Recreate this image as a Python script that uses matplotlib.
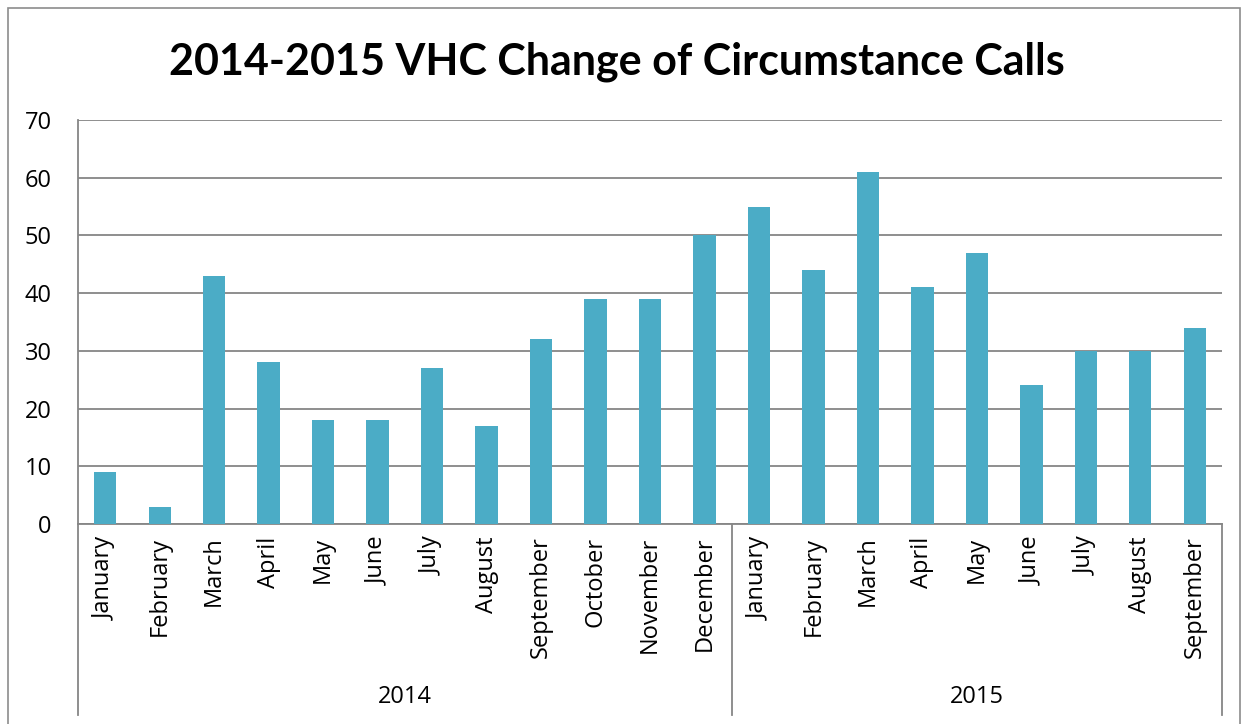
import matplotlib
matplotlib.use("Agg")
import matplotlib.pyplot as plt
from matplotlib.patches import Rectangle
from matplotlib.lines import Line2D

months = ["January", "February", "March", "April", "May", "June", "July", "August",
          "September", "October", "November", "December",
          "January", "February", "March", "April", "May", "June", "July", "August", "September"]
values = [9, 3, 43, 28, 18, 18, 27, 17, 32, 39, 39, 50,
          55, 44, 61, 41, 47, 24, 30, 30, 34]
years = ["2014", "2015"]
year_counts = [12, 9]
yticks = [0, 10, 20, 30, 40, 50, 60, 70]
title = "2014-2015 VHC Change of Circumstance Calls"

W, H = 1247, 724
fig = plt.figure(figsize=(W / 100, H / 100), dpi=100)
fig.patch.set_facecolor("white")

font = "Open Sans"
bar_color = "#4BACC6"
grid_color = "#868686"

# outer chart border
fig.add_artist(Rectangle((8 / W, -0.05), (1240 - 8) / W, (H - 8) / H + 0.05,
                         transform=fig.transFigure, fill=False,
                         edgecolor="#8c8c8c", lw=1.2))

ax = fig.add_axes([78 / W, (H - 524) / H, (1222 - 78) / W, (524 - 120) / H])
x = list(range(len(values)))
ax.bar(x, values, width=0.41, color=bar_color, zorder=3)
ax.set_xlim(-0.5, len(values) - 0.5)
ax.set_ylim(0, 70)
ax.set_yticks(yticks)
ax.set_yticklabels([str(t) for t in yticks], fontsize=17, fontfamily=font)
ax.tick_params(axis="y", length=0, pad=19)
ax.set_xticks(x)
ax.set_xticklabels(months, rotation=90, fontsize=17, fontfamily=font, va="top")
ax.tick_params(axis="x", length=0, pad=9)
ax.yaxis.grid(True, color=grid_color, lw=1.3, zorder=0)
for s in ["top", "right"]:
    ax.spines[s].set_visible(False)
ax.spines["left"].set_color(grid_color)
ax.spines["left"].set_linewidth(1.3)
ax.spines["bottom"].set_color(grid_color)
ax.spines["bottom"].set_linewidth(1.3)

# group dividers and year labels
trans = ax.get_xaxis_transform()
y_bottom = -(715 - 524) / (524 - 120)
start = -0.5
bounds = [start]
for c in year_counts:
    bounds.append(bounds[-1] + c)
for b in bounds:
    ax.add_line(Line2D([b, b], [0, y_bottom], transform=trans, color=grid_color,
                       lw=1.3, clip_on=False))
y_year = -(697 - 524) / (524 - 120)
for i, yr in enumerate(years):
    ax.text((bounds[i] + bounds[i + 1]) / 2, y_year, yr, transform=trans,
            ha="center", va="center", fontsize=17, fontfamily=font)

fig.text(617 / W, (H - 62) / H, title, ha="center", va="center",
         fontsize=31, fontweight="bold", fontfamily="Lato")

fig.savefig("out.png", dpi=100)
